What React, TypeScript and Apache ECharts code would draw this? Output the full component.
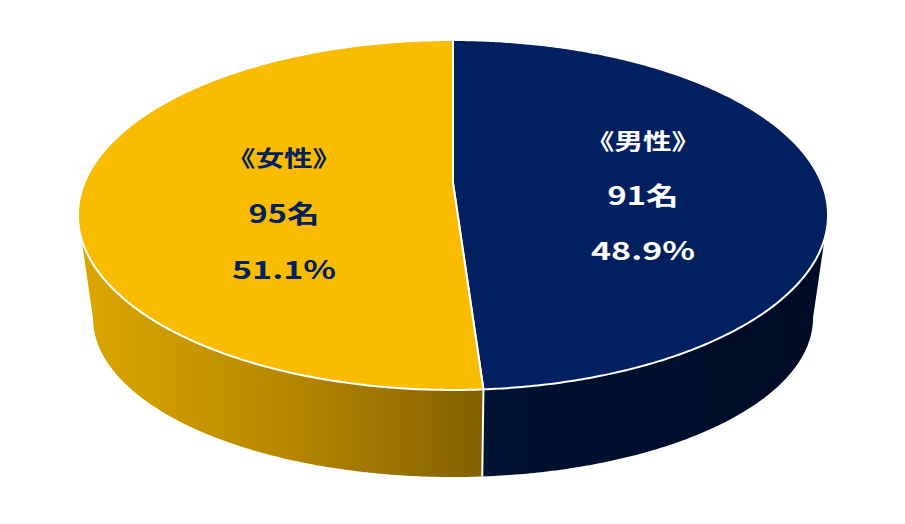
import React, { useEffect, useRef } from "react";
import * as echarts from "echarts";

// ---- data ----
const categories = ["男性", "女性"];
const counts = [91, 95];
const unitSuffix = "名";

// ---- styles ----
const TOP_COLORS = ["#002060", "#FABC00"];
const LABEL_COLORS = ["#FFFFFF", "#002060"];
const SIDE_STOPS = [
  [
    { offset: 0, color: "#001232" },
    { offset: 1, color: "#000C26" },
  ],
  [
    { offset: 0, color: "#DCA700" },
    { offset: 0.5, color: "#B88900" },
    { offset: 1, color: "#826000" },
  ],
];
const SIDE_GRAD_X = [
  [480, 830],
  [78, 484],
];
const LABEL_CENTERS = [
  [643, 139],
  [284, 156],
];
const LINE_GAP = [55, 56];

// ---- projection geometry of the 3D pie ----
const CX = 453;
const CY = 183;
const S = 368.7;
const T = 169.1;
const C = 0.1829;
// top ellipse (outline) derived from the projection
const ERX = S / Math.sqrt(1 - C * C);
const ERY = T / (1 - C * C);
const EY = CY + (T * C) / (1 - C * C);
// bottom ellipse
const CXB = 453;
const RXB = 360;
const CYB = 318;
const RYB = 159;
// angles of the left / right extremes of the outline (silhouette)
const TH_R = Math.acos(-C);
const TH_L = Math.PI * 2 - Math.acos(-C);

function rim(theta: number, r = 1): number[] {
  const w = 1 + C * r * Math.cos(theta);
  return [CX + (S * r * Math.sin(theta)) / w, CY - (T * r * Math.cos(theta)) / w];
}
function bottomRim(theta: number): number[] {
  const [x, y] = rim(theta);
  const s = (x - CX) / ERX;
  const c = (EY - y) / ERY;
  return [CXB + RXB * s, CYB - RYB * c];
}
function arc(a: number, b: number, fn: (t: number) => number[]): number[][] {
  const n = Math.max(2, Math.ceil(Math.abs(b - a) / (Math.PI / 360)));
  const pts: number[][] = [];
  for (let i = 0; i <= n; i++) pts.push(fn(a + ((b - a) * i) / n));
  return pts;
}

export default function App() {
  const ref = useRef<HTMLDivElement>(null);
  useEffect(() => {
    if (!ref.current) return;
    const chart = echarts.init(ref.current, null, { renderer: "svg" });
    const total = counts.reduce((s, v) => s + v, 0);
    const starts: number[] = [];
    let acc = 0;
    counts.forEach((v) => {
      starts.push(acc);
      acc += v;
    });
    const angleOf = (v: number) => (v / total) * Math.PI * 2;
    const data = counts.map((v, i) => ({ name: categories[i], value: [v, starts[i]] }));

    const sideItem = (params: any, api: any) => {
      const i = params.dataIndex;
      const a0 = angleOf(api.value(1));
      const a1 = angleOf(api.value(1) + api.value(0));
      const lo = Math.max(a0, TH_R);
      const hi = Math.min(a1, TH_L);
      const children: any[] = [];
      if (hi > lo) {
        const pts = arc(lo, hi, (t) => rim(t)).concat(arc(hi, lo, bottomRim));
        children.push({
          type: "polygon",
          shape: { points: pts },
          style: {
            fill: {
              type: "linear",
              x: SIDE_GRAD_X[i][0],
              y: 0,
              x2: SIDE_GRAD_X[i][1],
              y2: 0,
              global: true,
              colorStops: SIDE_STOPS[i],
            },
            stroke: null,
          },
        });
      }
      if (a0 > TH_R && a0 < TH_L) {
        const p = rim(a0);
        const q = bottomRim(a0);
        children.push({
          type: "line",
          z2: 10,
          shape: { x1: p[0], y1: p[1], x2: q[0], y2: q[1] },
          style: { stroke: "#FFFFFF", lineWidth: 2 },
        });
      }
      return { type: "group", children };
    };

    const topItem = (params: any, api: any) => {
      const i = params.dataIndex;
      const v = api.value(0);
      const a0 = angleOf(api.value(1));
      const a1 = angleOf(api.value(1) + v);
      const pts = [[CX, CY]].concat(arc(a0, a1, (t) => rim(t)));
      const pct = ((v / total) * 100).toFixed(1) + "%";
      const [lx, ly] = LABEL_CENTERS[i];
      const gap = LINE_GAP[i];
      const lines = [
        { text: "《" + categories[i] + "》", size: 22, sx: 1.3 },
        { text: v + unitSuffix, size: 25, sx: 1.3 },
        { text: pct, size: 25, sx: 1.36 },
      ];
      const children: any[] = [
        {
          type: "polygon",
          shape: { points: pts },
          style: { fill: TOP_COLORS[i], stroke: "#FFFFFF", lineWidth: 2, lineJoin: "round" },
        },
      ];
      lines.forEach((ln, k) => {
        children.push({
          type: "text",
          x: lx,
          y: ly + gap * k,
          scaleX: ln.sx,
          z2: 20,
          style: {
            text: ln.text,
            fill: LABEL_COLORS[i],
            font: `bold ${ln.size}px "Noto Sans CJK JP", "Noto Sans", sans-serif`,
            align: "center",
            verticalAlign: "middle",
          },
        });
      });
      return { type: "group", children };
    };

    chart.setOption({
      animation: false,
      backgroundColor: "#FFFFFF",
      series: [
        {
          type: "custom",
          coordinateSystem: "none",
          silent: true,
          z: 1,
          data,
          renderItem: sideItem,
        },
        {
          type: "custom",
          coordinateSystem: "none",
          silent: true,
          z: 2,
          data,
          renderItem: topItem,
        },
      ],
    });
    return () => chart.dispose();
  }, []);
  return (
    <div
      ref={ref}
      style={{ position: "absolute", left: 0, top: 0, width: 905, height: 524 }}
    />
  );
}
